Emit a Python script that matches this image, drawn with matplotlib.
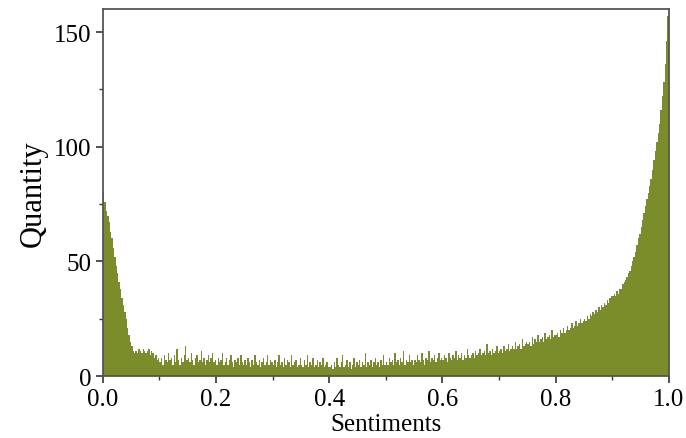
import numpy as np
import matplotlib.pyplot as plt
from matplotlib.ticker import MultipleLocator

# histogram of sentiment scores, 400 bins of width 0.0025 (one row = 0.05)
bin_width = 0.0025
counts_rows = [
    [80, 76, 72, 70, 67, 63, 60, 56, 52, 48, 45, 41, 38, 34, 31, 28, 25, 21, 18, 15],
    [13, 11, 10, 11, 10, 12, 11, 10, 12, 11, 10, 11, 12, 9, 11, 10, 8, 9, 7, 8],
    [6, 8, 5, 9, 7, 6, 10, 7, 8, 5, 9, 6, 12, 7, 5, 8, 6, 9, 13, 7],
    [8, 6, 10, 7, 5, 8, 9, 6, 7, 11, 6, 8, 5, 7, 9, 6, 8, 10, 6, 7],
    [5, 8, 6, 7, 10, 5, 6, 8, 5, 7, 9, 6, 4, 7, 6, 8, 5, 9, 6, 5],
    [7, 5, 8, 6, 4, 7, 5, 9, 6, 5, 7, 4, 6, 8, 5, 6, 9, 5, 7, 6],
    [5, 7, 4, 6, 9, 5, 6, 4, 8, 5, 7, 6, 4, 9, 5, 6, 7, 4, 5, 8],
    [5, 4, 7, 5, 9, 4, 6, 5, 8, 4, 5, 7, 4, 6, 5, 8, 4, 5, 6, 4],
    [4, 5, 3, 6, 4, 8, 5, 4, 6, 9, 4, 5, 7, 4, 6, 3, 5, 8, 4, 6],
    [5, 7, 4, 6, 5, 10, 4, 6, 5, 7, 4, 6, 8, 5, 6, 4, 7, 5, 9, 5],
    [6, 5, 8, 6, 7, 5, 10, 6, 7, 5, 8, 6, 11, 5, 7, 6, 9, 6, 7, 5],
    [7, 6, 9, 7, 6, 10, 7, 5, 8, 7, 11, 6, 8, 7, 9, 6, 8, 10, 7, 8],
    [7, 9, 8, 6, 10, 8, 7, 9, 8, 11, 7, 9, 8, 10, 7, 9, 8, 12, 9, 8],
    [9, 10, 8, 11, 9, 10, 12, 9, 10, 11, 9, 14, 10, 11, 9, 12, 10, 11, 13, 10],
    [11, 12, 10, 13, 11, 12, 14, 11, 12, 13, 12, 15, 12, 13, 14, 12, 16, 13, 14, 15],
    [14, 15, 13, 17, 14, 16, 15, 18, 15, 16, 17, 15, 19, 16, 17, 18, 16, 20, 17, 18],
    [18, 19, 17, 20, 19, 21, 19, 20, 22, 20, 21, 23, 21, 22, 24, 22, 23, 25, 23, 24],
    [25, 24, 26, 25, 27, 26, 28, 27, 29, 28, 30, 29, 31, 30, 32, 31, 33, 32, 34, 35],
    [35, 36, 35, 37, 36, 38, 38, 40, 41, 42, 43, 45, 46, 48, 50, 52, 54, 57, 60, 62],
    [65, 68, 71, 74, 77, 80, 83, 86, 90, 94, 98, 102, 106, 110, 116, 122, 128, 136, 146, 157],
]
counts = [c for row in counts_rows for c in row]
left_edges = np.arange(len(counts)) * bin_width

plt.rcParams['font.family'] = ['Liberation Serif', 'DejaVu Serif']

fig = plt.figure(figsize=(6.86, 4.39), dpi=100)
ax = fig.add_axes([0.150, 0.141, 0.825, 0.836])

ax.bar(left_edges, counts, width=bin_width, align='edge',
       color='#7b8c2a', edgecolor='none', linewidth=0)

ax.set_xlim(0, 1.0)
ax.set_ylim(0, 160)
ax.xaxis.set_major_locator(MultipleLocator(0.2))
ax.xaxis.set_minor_locator(MultipleLocator(0.1))
ax.yaxis.set_major_locator(MultipleLocator(50))
ax.yaxis.set_minor_locator(MultipleLocator(25))
ax.xaxis.set_major_formatter(plt.FormatStrFormatter('%.1f'))

ax.tick_params(which='major', direction='out', length=5, width=1.2, labelsize=18, color='#333333')
ax.tick_params(which='minor', direction='out', length=3, width=1.0, color='#333333')
for s in ax.spines.values():
    s.set_color('#555555')
    s.set_linewidth(1.3)

ax.set_xlabel('Sentiments', fontsize=18, labelpad=2)
ax.set_ylabel('Quantity', fontsize=22, labelpad=4)

fig.savefig('out.png', dpi=100)
